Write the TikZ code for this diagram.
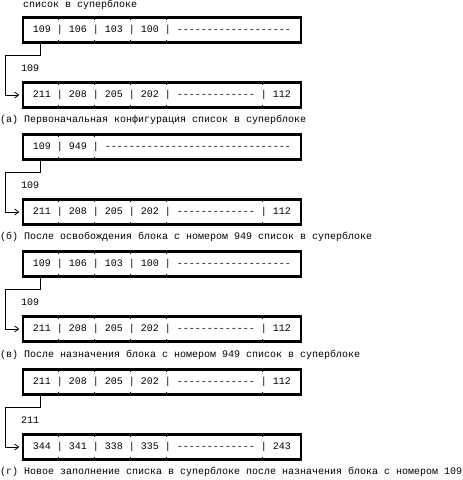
\documentclass[tikz,border=0pt]{standalone}
\usepackage{fontspec}
\setmonofont{Liberation Mono}
\usetikzlibrary{arrows.meta}

\begin{document}
\begin{tikzpicture}[x=1pt,y=-1pt,
    every node/.style={font=\fontsize{10}{12}\selectfont\ttfamily,inner sep=0pt},
    blk/.style={draw,line width=2.4pt,minimum height=25pt,minimum width=278pt,
        inner xsep=10pt},
    txt/.style={anchor=west},
    link/.style={draw,line width=0.8pt,-{Straight Barb[length=4pt,width=6pt]},shorten >=2.5pt},
    sepmark/.style={draw,line width=0.8pt}]
    \useasboundingbox (0,0) rectangle (463,480);

    \node[txt] (title) at (23,5) {список в суперблоке};

    % (a)
    \node[blk] (a1) at (162,30) {109 | 106 | 103 | 100 | -------------------};
    \node[txt] (la) at (21,68) {109};
    \node[blk] (a2) at (162,95) {211 | 208 | 205 | 202 | ------------- | 112};
    \node[txt] (ca) at (0,120) {(а) Первоначальная конфигурация список в суперблоке};
    \coordinate (ka) at (5,55);
    \path[link] ([xshift=19pt]a1.south west) |- (ka) |- (a2.west);

    % (b)
    \node[blk] (b1) at (162,147) {109 | 949 | -------------------------------};
    \node[txt] (lb) at (21,185) {109};
    \node[blk] (b2) at (162,212) {211 | 208 | 205 | 202 | ------------- | 112};
    \node[txt] (cb) at (0,237) {(б) После освобождения блока с номером 949 список в суперблоке};
    \coordinate (kb) at (5,172);
    \path[link] ([xshift=19pt]b1.south west) |- (kb) |- (b2.west);

    % (v)
    \node[blk] (v1) at (162,264) {109 | 106 | 103 | 100 | -------------------};
    \node[txt] (lv) at (21,302) {109};
    \node[blk] (v2) at (162,329) {211 | 208 | 205 | 202 | ------------- | 112};
    \node[txt] (cv) at (0,355) {(в) После назначения блока с номером 949 список в суперблоке};
    \coordinate (kv) at (5,289);
    \path[link] ([xshift=19pt]v1.south west) |- (kv) |- (v2.west);

    % (g)
    \node[blk] (g1) at (162,382) {211 | 208 | 205 | 202 | ------------- | 112};
    \node[txt] (lg) at (21,420) {211};
    \node[blk] (g2) at (162,447) {344 | 341 | 338 | 335 | ------------- | 243};
    \node[txt] (cg) at (0,472) {(г) Новое заполнение списка в суперблоке после назначения блока с номером 109};
    \coordinate (kg) at (5,407);
    \path[link] ([xshift=19pt]g1.south west) |- (kg) |- (g2.west);

    % small marks under the separators
    \foreach \b/\marks in {a1/{37,73,109,145},a2/{37,73,109,145,241},
        b1/{37,73},b2/{37,73,109,145,241},
        v1/{37,73,109,145},v2/{37,73,109,145,241},
        g1/{37,73,109,145,241},g2/{37,73,109,145,241}}{
      \foreach \m in \marks{
        \path[sepmark] ([xshift=\m pt]\b.north west) -- ++(0,3.5);
        \path[sepmark] ([xshift=\m pt]\b.south west) -- ++(0,-3.5);
      }
    }
\end{tikzpicture}
\end{document}
